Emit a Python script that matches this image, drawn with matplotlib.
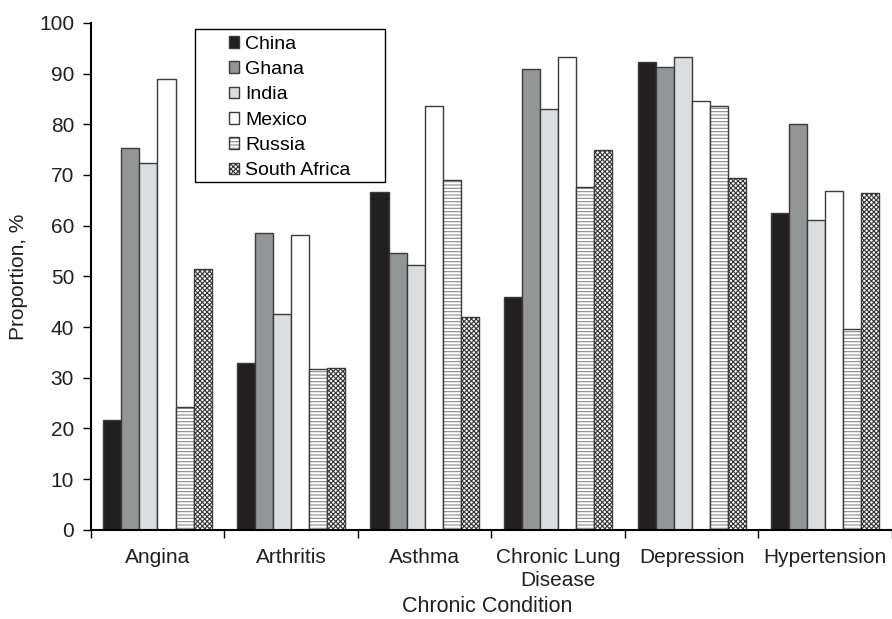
import numpy as np
import matplotlib.pyplot as plt
from matplotlib.patches import Rectangle
from matplotlib.legend_handler import HandlerTuple

plt.rcParams['font.family'] = ['Liberation Sans', 'DejaVu Sans']
plt.rcParams['hatch.linewidth'] = 0.8

conditions = ["Angina", "Arthritis", "Asthma", "Chronic Lung\nDisease", "Depression", "Hypertension"]
countries = ["China", "Ghana", "India", "Mexico", "Russia", "South Africa"]

china = [21.7, 33.0, 66.6, 46.0, 92.2, 62.6]
ghana = [75.4, 58.5, 54.7, 91.0, 91.3, 80.0]
india = [72.3, 42.5, 52.2, 83.0, 93.3, 61.2]
mexico = [89.0, 58.2, 83.6, 93.3, 84.6, 66.8]
russia = [24.3, 31.8, 69.1, 67.7, 83.6, 39.6]
south_africa = [51.5, 32.0, 42.0, 75.0, 69.5, 66.5]

series = [china, ghana, india, mexico, russia, south_africa]

# fill colour, hatch, hatch colour
styles = [
    ("#231f20", None, None),
    ("#939598", None, None),
    ("#dcdddf", None, None),
    ("white", None, None),
    ("white", "-----", "#8a8a8a"),
    ("white", "xxxxxxx", "#333333"),
]

fig = plt.figure(figsize=(8.92, 6.19), dpi=100)
ax = fig.add_axes([0.1017, 0.144, 0.8983, 0.819])

x = np.arange(len(conditions))
w = 0.135
edge = "#3a3a3a"
handles = []
for i, (vals, (fc, hatch, hc)) in enumerate(zip(series, styles)):
    pos = x + (i - 2.5) * w
    if hatch:
        b1 = ax.bar(pos, vals, w, color=fc, edgecolor=hc, hatch=hatch, linewidth=0)
        b2 = ax.bar(pos, vals, w, fill=False, edgecolor=edge, linewidth=1.0)
        handles.append((b1[0], b2[0]))
    else:
        b = ax.bar(pos, vals, w, color=fc, edgecolor=edge, linewidth=1.0)
        handles.append(b[0])

fs = 15
txt = '#231f20'
ax.set_xlim(-0.5, len(conditions) - 0.5)
ax.set_ylim(0, 100)
ax.set_yticks(np.arange(0, 101, 10))
ax.set_xticks(x)
ax.set_xticklabels(conditions, fontsize=fs, color=txt, linespacing=1.25)
ax.tick_params(axis='x', length=0, pad=13)
ax.set_xticks(np.arange(-0.5, len(conditions), 1), minor=True)
ax.tick_params(axis='x', which='minor', length=6, width=1, direction='out')
ax.tick_params(axis='y', labelsize=fs, length=6, width=1, direction='out', pad=6,
               labelcolor=txt)
for s in ['top', 'right']:
    ax.spines[s].set_visible(False)
ax.spines['left'].set_linewidth(1.5)
ax.spines['bottom'].set_linewidth(1.5)

ax.set_ylabel("Proportion, %", fontsize=fs, color=txt)
ax.yaxis.set_label_coords(-0.078, 0.5)
ax.set_xlabel("Chronic Condition", fontsize=15.5, color=txt)
ax.xaxis.set_label_coords(0.495, -0.13)

# legend frame drawn separately to match the wide left margin
ax.add_patch(Rectangle((0.130, 0.686), 0.237, 0.302, transform=ax.transAxes,
                       fill=False, edgecolor='black', linewidth=1.0, zorder=5))
ax.legend(handles, countries, loc='upper left', bbox_to_anchor=(0.172, 0.975),
          frameon=False, fontsize=14, handlelength=0.55, handleheight=0.55,
          handletextpad=0.3, labelspacing=0.43, borderaxespad=0, borderpad=0,
          handler_map={tuple: HandlerTuple(ndivide=1, pad=0)})

fig.savefig("out.png", dpi=100)
